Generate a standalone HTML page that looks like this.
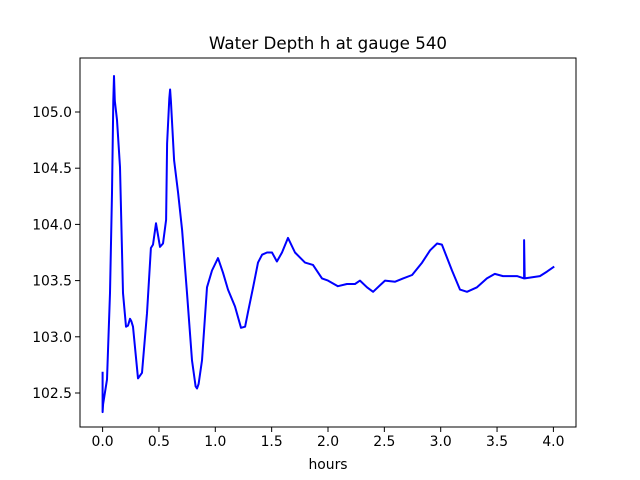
<!DOCTYPE html>
<html><head><meta charset="utf-8"><style>body{margin:0;background:#fff}svg{display:block;font-family:"DejaVu Sans","Liberation Sans",sans-serif}</style></head>
<body>
<svg id="chart" width="640" height="480"></svg>
<script>
const tVals=[0,0,0.004,0.039,0.066,0.083,0.095,0.101,0.108,0.128,0.154,0.181,0.208,0.225,0.243,0.255,0.27,0.314,0.35,0.394,0.429,0.447,0.474,0.509,0.536,0.563,0.572,0.592,0.599,0.606,0.634,0.67,0.705,0.749,0.793,0.825,0.838,0.852,0.882,0.926,0.971,1.024,1.068,1.113,1.175,1.228,1.264,1.29,1.335,1.379,1.415,1.459,1.503,1.547,1.592,1.645,1.707,1.796,1.867,1.947,2.0,2.088,2.168,2.24,2.284,2.346,2.4,2.506,2.595,2.666,2.746,2.835,2.906,2.968,3.011,3.1,3.171,3.233,3.322,3.41,3.48,3.553,3.677,3.74,3.74,3.745,3.88,3.943,4.0];
const hVals=[102.68,102.33,102.40,102.62,103.39,104.28,105.10,105.32,105.10,104.93,104.51,103.39,103.09,103.10,103.16,103.14,103.09,102.63,102.68,103.21,103.79,103.82,104.01,103.80,103.83,104.04,104.72,105.12,105.20,105.10,104.57,104.28,103.95,103.39,102.79,102.56,102.54,102.58,102.79,103.44,103.59,103.70,103.57,103.42,103.27,103.08,103.09,103.22,103.44,103.66,103.73,103.75,103.75,103.67,103.75,103.88,103.75,103.66,103.64,103.52,103.50,103.45,103.47,103.47,103.50,103.44,103.40,103.50,103.49,103.52,103.55,103.66,103.77,103.83,103.82,103.59,103.42,103.40,103.44,103.52,103.56,103.54,103.54,103.52,103.86,103.52,103.54,103.58,103.62];
const xTicks=[0,0.5,1,1.5,2,2.5,3,3.5,4];
const xTickLabels=["0.0","0.5","1.0","1.5","2.0","2.5","3.0","3.5","4.0"];
const yTicks=[102.5,103,103.5,104,104.5,105];
const yTickLabels=["102.5","103.0","103.5","104.0","104.5","105.0"];
const svg=document.getElementById('chart');const NS='http://www.w3.org/2000/svg';
const L=80,R=576,T=58,B=427;
const xs=t=>102.6+t*112.7;
const ys=h=>112-(h-105)*112.4;
function mk(tag,a,p){const e=document.createElementNS(NS,tag);for(const k in a)e.setAttribute(k,a[k]);(p||svg).appendChild(e);return e;}
let d=tVals.map((t,i)=>(i?'L':'M')+xs(t).toFixed(1)+','+ys(hVals[i]).toFixed(1)).join('');
const line=mk('path',{d:d,fill:'none',stroke:'#0000ff','stroke-width':2,'stroke-linejoin':'round','stroke-linecap':'square'});


const fr=mk('rect',{x:L,y:T,width:R-L,height:B-T,fill:'none',stroke:'#000','stroke-width':1});


xTicks.forEach((v,i)=>{const x=xs(v);mk('line',{x1:x,x2:x,y1:B,y2:B+5,stroke:'#000','stroke-width':1});
const tx=mk('text',{x:x,y:B+19,'font-size':13.9,'text-anchor':'middle'});tx.textContent=xTickLabels[i];

});
yTicks.forEach((v,i)=>{const y=ys(v);mk('line',{x1:L-5,x2:L,y1:y,y2:y,stroke:'#000','stroke-width':1});
const tx=mk('text',{x:L-8,y:y+5,'font-size':13.9,'text-anchor':'end'});tx.textContent=yTickLabels[i];

});
const ti=mk('text',{x:328,y:49,'font-size':16.7,'text-anchor':'middle'});ti.textContent='Water Depth h at gauge 540';


const xl=mk('text',{x:328,y:469,'font-size':13.9,'text-anchor':'middle'});xl.textContent='hours';


</script>
</body></html>
